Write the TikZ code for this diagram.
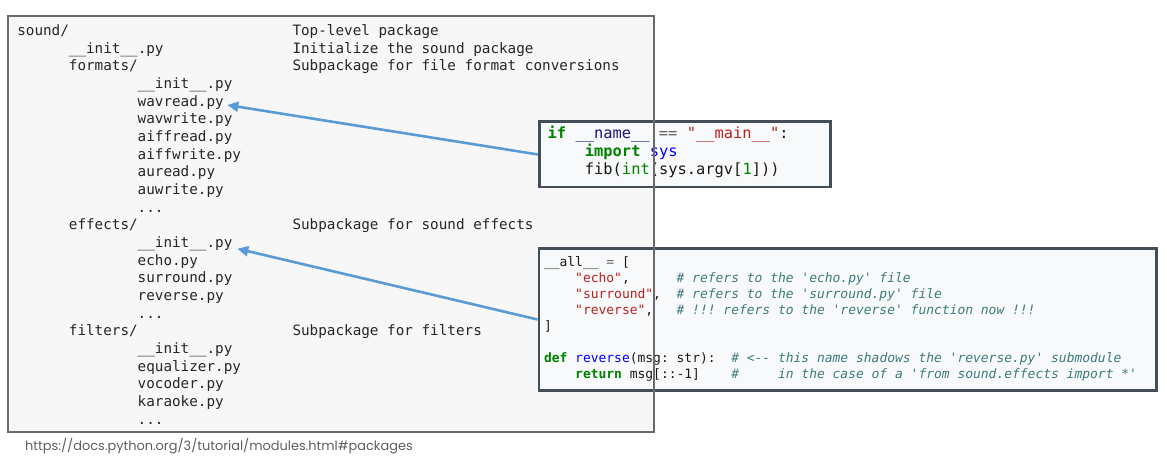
\documentclass[tikz,border=0pt]{standalone}
\usepackage{fontspec}
\setmonofont{DejaVu Sans Mono}
\newfontfamily\urlfont{Poppins}
\usetikzlibrary{arrows.meta}
\definecolor{kwcol}{HTML}{008000}
\definecolor{nmcol}{HTML}{19177C}
\definecolor{opcol}{HTML}{666666}
\definecolor{stcol}{HTML}{BA2121}
\definecolor{fncol}{HTML}{0000FF}
\definecolor{cmcol}{HTML}{3D7B7B}
\definecolor{arrcol}{HTML}{5B9BD5}
\definecolor{outerborder}{HTML}{6B6B6B}
\definecolor{outerfill}{HTML}{F7F7F7}
\definecolor{codeborder}{HTML}{434E59}
\definecolor{codefill}{HTML}{F8F9FA}
\definecolor{urlcol}{HTML}{5E5E5E}
\newcommand{\kwc}[1]{{\color{kwcol}\bfseries #1}}
\newcommand{\nmc}[1]{{\color{nmcol}#1}}
\newcommand{\opc}[1]{{\color{opcol}#1}}
\newcommand{\stc}[1]{{\color{stcol}#1}}
\newcommand{\fnc}[1]{{\color{fncol}#1}}
\newcommand{\bic}[1]{{\color{kwcol}#1}}
\newcommand{\cmc}[1]{{\color{cmcol}\itshape #1}}
\newcommand{\tline}[3]{\node[tree] (L#1) at ({17.3+8.6*#2},{35.7+17.65*#1}) {#3};}
\newcommand{\dline}[2]{\node[tree] (D#1) at (292.5,{35.7+17.65*#1}) {#2};}
\tikzset{
  tree/.style={anchor=base west, inner sep=0pt, outer sep=0pt, text=black!85,
    font=\ttfamily\fontsize{14.3}{17}\selectfont},
  codeA/.style={anchor=base west, inner sep=0pt, outer sep=0pt, text=black!90,
    font=\ttfamily\fontsize{15.4}{18}\selectfont},
  codeB/.style={anchor=base west, inner sep=0pt, outer sep=0pt, text=black!90,
    font=\ttfamily\fontsize{12.96}{16}\selectfont},
  cbox/.style={draw=codeborder, fill=codefill, line width=2.5pt, inner sep=0pt, anchor=north west},
  linkarrow/.style={draw=arrcol, line width=2.6pt, -{Triangle[length=11pt,width=10pt]}}
}
\begin{document}
\begin{tikzpicture}[x=1pt,y=-1pt]
\useasboundingbox (0,0) rectangle (1167,462);
\fill[white] (0,0) rectangle (1167,462);
% outer listing background
\fill[outerfill] (8,16) rectangle (654,432);
% tree listing
\tline{0}{0}{sound/}
\tline{1}{6}{\_\_init\_\_.py}
\tline{2}{6}{formats/}
\tline{3}{14}{\_\_init\_\_.py}
\tline{4}{14}{wavread.py}
\tline{5}{14}{wavwrite.py}
\tline{6}{14}{aiffread.py}
\tline{7}{14}{aiffwrite.py}
\tline{8}{14}{auread.py}
\tline{9}{14}{auwrite.py}
\tline{10}{14}{...}
\tline{11}{6}{effects/}
\tline{12}{14}{\_\_init\_\_.py}
\tline{13}{14}{echo.py}
\tline{14}{14}{surround.py}
\tline{15}{14}{reverse.py}
\tline{16}{14}{...}
\tline{17}{6}{filters/}
\tline{18}{14}{\_\_init\_\_.py}
\tline{19}{14}{equalizer.py}
\tline{20}{14}{vocoder.py}
\tline{21}{14}{karaoke.py}
\tline{22}{14}{...}
\dline{0}{Top-level package}
\dline{1}{Initialize the sound package}
\dline{2}{Subpackage for file format conversions}
\dline{11}{Subpackage for sound effects}
\dline{17}{Subpackage for filters}
% code box 1
\node[cbox, minimum width=291pt, minimum height=65.5pt] (b1) at (538,120.5) {};
\node[codeA] (c1a) at (547.7,139) {\kwc{if} \nmc{\_\_name\_\_} \opc{==} \stc{"\_\_main\_\_"}:};
\node[codeA] (c1b) at (584.9,157) {\kwc{import} \fnc{sys}};
\node[codeA] (c1c) at (584.9,175) {fib(\bic{int}(sys.argv[\bic{1}]))};
% code box 2
\node[cbox, minimum width=617.5pt, minimum height=141.5pt] (b2) at (537.5,247.5) {};
\node[codeB] (c2a) at (544,266.7) {\_\_all\_\_ \opc{=} [};
\node[codeB] (c2b) at (575.2,282.7) {\stc{"echo"},~~~~~~\cmc{\# refers to the 'echo.py' file}};
\node[codeB] (c2c) at (575.2,298.7) {\stc{"surround"},~~\cmc{\# refers to the 'surround.py' file}};
\node[codeB] (c2d) at (575.2,314.7) {\stc{"reverse"},~~~\cmc{\# !!! refers to the 'reverse' function now !!!}};
\node[codeB] (c2e) at (544,330.7) {]};
\node[codeB] (c2f) at (544,362.7) {\kwc{def} \fnc{reverse}(msg: str):~~\cmc{\# <-{}- this name shadows the 'reverse.py' submodule}};
\node[codeB] (c2g) at (575.2,378.7) {\kwc{return} msg[::-1]~~~~\cmc{\#~~~~~in the case of a 'from sound.effects import *'}};
% outer listing border drawn on top
\draw[outerborder, line width=2pt] (8,16) rectangle (654,432);
% arrows
\coordinate (t1) at (227.3,105);
\coordinate (t2) at (237.3,248.7);
\draw[linkarrow] (b1.west) -- (t1);
\draw[linkarrow] (b2.west) -- (t2);
% source url
\node[anchor=base west, inner sep=0pt, text=urlcol, font=\urlfont\fontsize{12.9}{15}\selectfont] (url) at (25,450) {https://docs.python.org/3/tutorial/modules.html\#packages};
\end{tikzpicture}
\end{document}
